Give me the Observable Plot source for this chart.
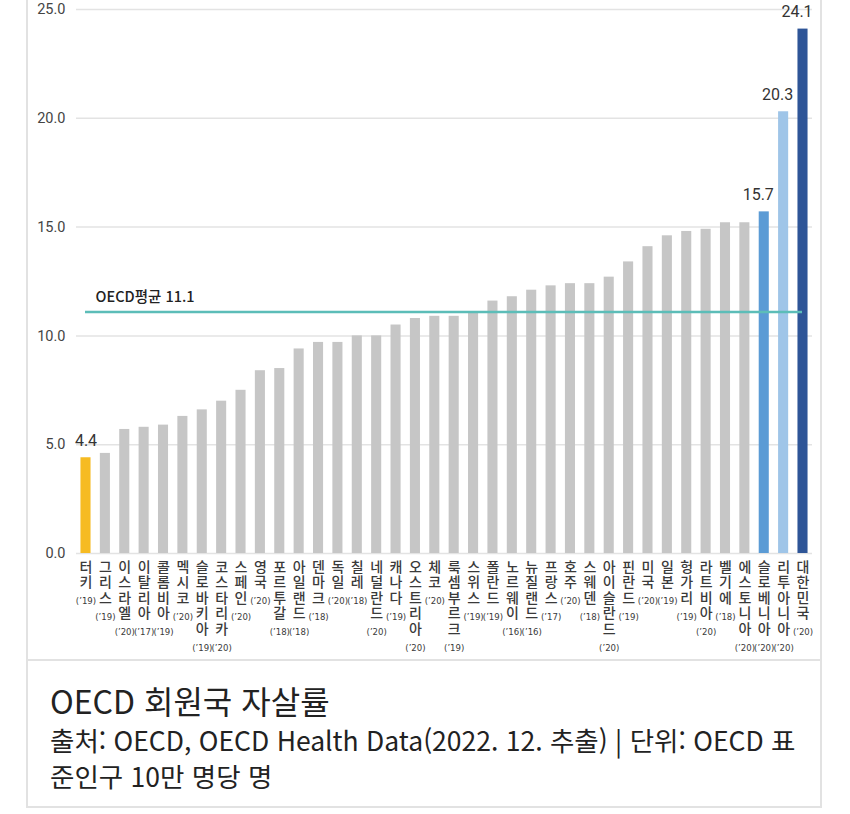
<!DOCTYPE html>
<html lang="ko">
<head>
<meta charset="utf-8">
<script src="https://cdn.jsdelivr.net/npm/d3@7"></script>
<script src="https://cdn.jsdelivr.net/npm/@observablehq/plot@0.6"></script>
<style>
  html, body { margin: 0; padding: 0; background: #fff; }
  body { width: 850px; height: 814px; position: relative; overflow: hidden;
         font-family: "Noto Sans CJK KR", "Noto Sans", sans-serif; }
  #chart { position: absolute; left: 0; top: 0; }
  .vborder { position: absolute; top: 0; width: 2px; height: 660px; background: #e2e2e2; }
  #caption { position: absolute; left: 26px; top: 659px; width: 792px; height: 145px;
             border: 2px solid #e2e2e2; background: #fff; color: #222; }
  #caption .title { position: absolute; left: 22px; top: 19px; font-size: 32px; line-height: 40px; white-space: nowrap; }
  #caption .sub { position: absolute; left: 22px; top: 61px; font-size: 26.5px; line-height: 36px; white-space: nowrap; }
</style>
</head>
<body>
<div id="chart"></div>
<div class="vborder" style="left:26px"></div>
<div class="vborder" style="left:820px"></div>
<div id="caption">
  <div class="title" id="title"></div>
  <div class="sub" id="sub"></div>
</div>
<script>
// ---- data ----
const countries = ["터키","그리스","이스라엘","이탈리아","콜롬비아","멕시코","슬로바키아","코스타리카","스페인","영국",
  "포르투갈","아일랜드","덴마크","독일","칠레","네덜란드","캐나다","오스트리아","체코","룩셈부르크",
  "스위스","폴란드","노르웨이","뉴질랜드","프랑스","호주","스웨덴","아이슬란드","핀란드","미국",
  "일본","헝가리","라트비아","벨기에","에스토니아","슬로베니아","리투아니아","대한민국"];
const years = ["19","19","20","17","19","20","19","20","20","20",
  "18","18","18","20","18","20","19","20","20","19",
  "19","19","16","16","17","20","18","20","19","20",
  "19","19","20","18","20","20","20","20"];
const rates = [4.4,4.6,5.7,5.8,5.9,6.3,6.6,7.0,7.5,8.4,
  8.5,9.4,9.7,9.7,10.0,10.0,10.5,10.8,10.9,10.9,
  11.1,11.6,11.8,12.1,12.3,12.4,12.4,12.7,13.4,14.1,
  14.6,14.8,14.9,15.2,15.2,15.7,20.3,24.1];
const labeledCountries = ["터키","슬로베니아","리투아니아","대한민국"];
const oecdAverage = 11.1;
const averageLabel = "OECD평균";
const yTicks = [0, 5, 10, 15, 20, 25];
const titleText = "OECD 회원국 자살률";
const subtitleLines = ["출처: OECD, OECD Health Data(2022. 12. 추출) | 단위: OECD 표", "준인구 10만 명당 명"];

// ---- styles ----
const highlightColors = {"터키": "#f6bb22", "슬로베니아": "#5b9bd5", "리투아니아": "#9fc5e8", "대한민국": "#2e5597"};
const baseColor = "#c6c6c6";

const data = countries.map((c, i) => ({country: c, year: years[i], value: rates[i]}));
const labeled = data.filter(d => labeledCountries.includes(d.country));

const lineH = 15.5;
const yearMarks = [2, 3, 4, 5].map(L =>
  Plot.text(data.filter(d => d.country.length === L), {
    x: "country", text: d => `(’${d.year})`, frameAnchor: "bottom", lineAnchor: "middle",
    dy: 14 + (L - 1) * lineH + 18, fontSize: 9.5,
    fontFamily: "'Liberation Sans Narrow', 'DejaVu Sans Condensed', sans-serif",
    fill: "#3a3a3a", letterSpacing: "-0.3px"
  })
);

const chart = Plot.plot({
  width: 850, height: 659,
  marginLeft: 76, marginRight: 38, marginTop: 9, marginBottom: 106,
  style: {fontFamily: "'Noto Sans CJK KR', 'Noto Sans', sans-serif", background: "transparent"},
  x: {type: "band", domain: countries, paddingInner: 0.48, paddingOuter: 0.23, round: false, axis: null},
  y: {domain: [0, 25], axis: null},
  color: {type: "identity"},
  marks: [
    Plot.gridY(yTicks, {stroke: "#e3e3e3", strokeOpacity: 1, strokeWidth: 1.5}),
    Plot.axisY(yTicks, {tickSize: 0, tickPadding: 11, tickFormat: d => d.toFixed(1), label: null,
      fontSize: 14.5, fill: "#444", fontFamily: "'Roboto', sans-serif", anchor: "left"}),
    Plot.barY(data, {x: "country", y: "value",
      fill: d => highlightColors[d.country] || baseColor}),
    Plot.ruleY([oecdAverage], {stroke: "#5cbdb8", strokeWidth: 2.5, insetLeft: 9, insetRight: 10}),
    Plot.text([oecdAverage], {y: d => d, frameAnchor: "left", dx: 19, dy: -15, textAnchor: "start",
      text: d => `${averageLabel} ${d.toFixed(1)}`, fontSize: 14.5, fontWeight: 500, fill: "#222"}),
    Plot.text(labeled.slice(0, 1), {x: "country", y: "value", text: d => d.value.toFixed(1),
      dy: -17, fontSize: 16, fill: "#333", fontFamily: "'Roboto', sans-serif"}),
    Plot.text(labeled.slice(1), {x: "country", y: "value", text: d => d.value.toFixed(1),
      dy: -17, dx: -6, fontSize: 16, fill: "#333", fontFamily: "'Roboto', sans-serif"}),
    Plot.text(data, {x: "country", text: d => [...d.country].join("\n"), frameAnchor: "bottom",
      lineAnchor: "top", dy: 7, fontSize: 14, lineHeight: lineH / 14, fontWeight: 500, fill: "#3a3a3a"}),
    ...yearMarks
  ]
});
document.getElementById("chart").appendChild(chart);
document.getElementById("title").textContent = titleText;
document.getElementById("sub").innerHTML = subtitleLines.map(s => s.replace(/&/g, "&amp;").replace(/</g, "&lt;")).join("<br>");
</script>
</body>
</html>
